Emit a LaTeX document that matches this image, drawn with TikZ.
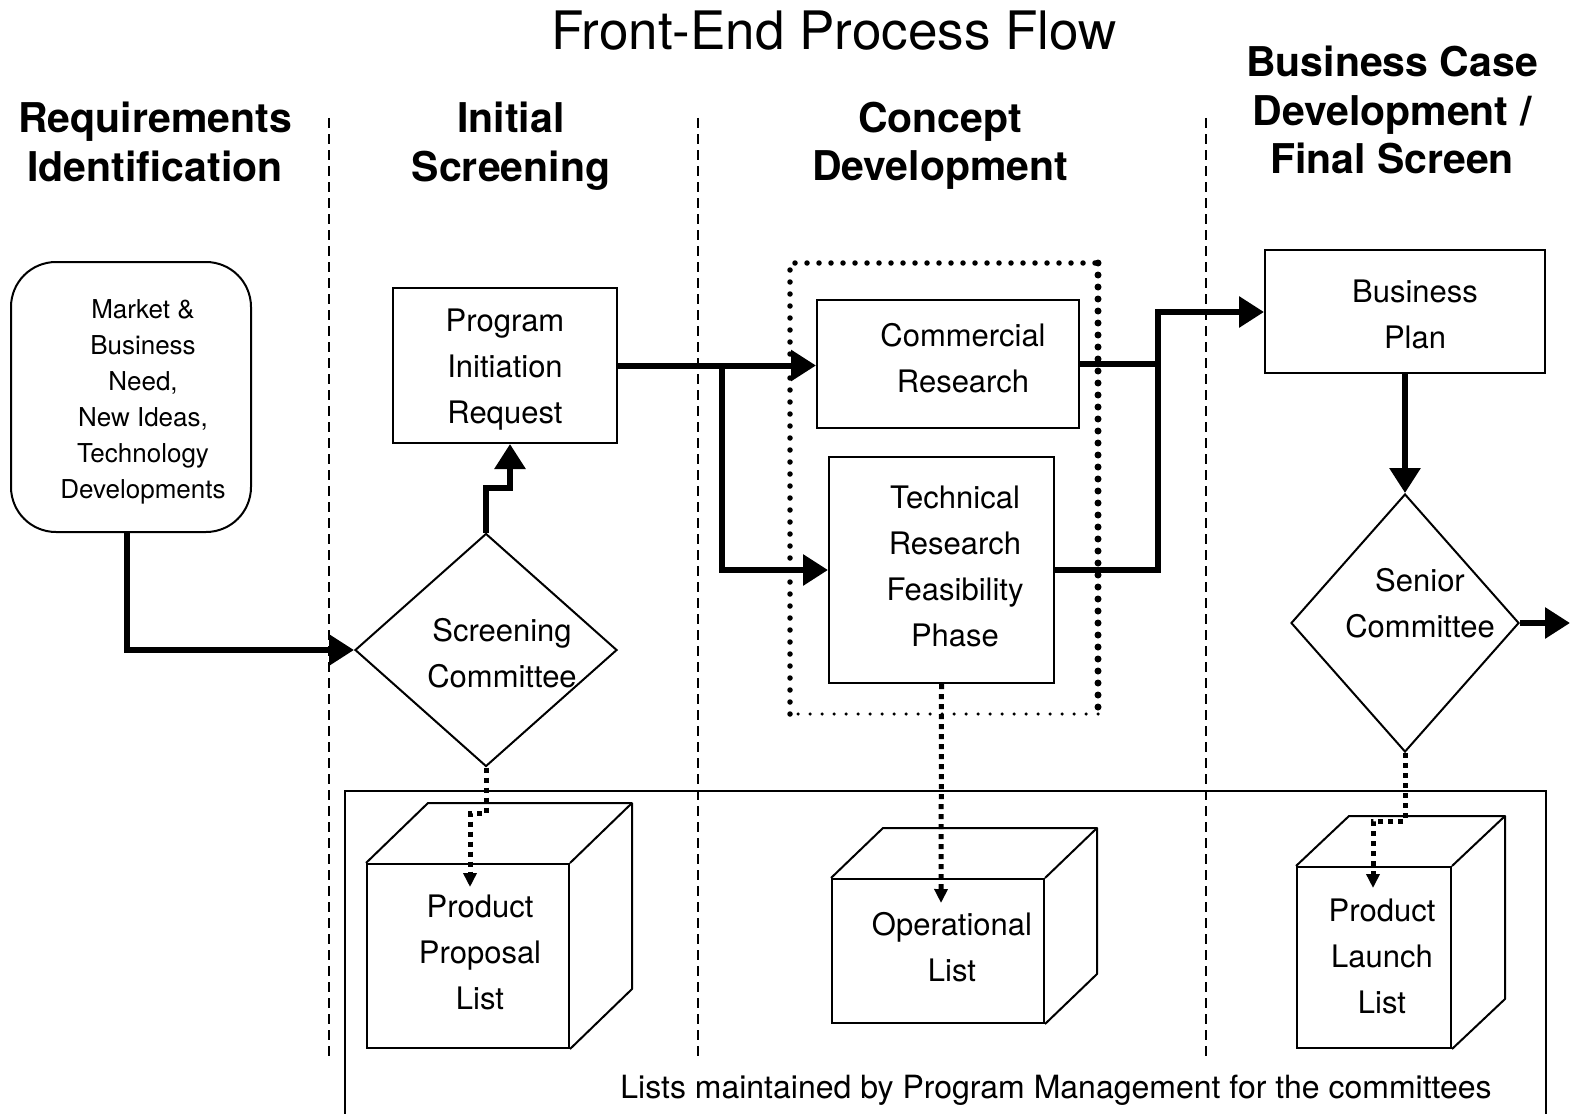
\documentclass[tikz,border=0pt]{standalone}
\usepackage{fontspec}
\setmainfont{TeX Gyre Heros}
\usetikzlibrary{arrows.meta,shapes.geometric,calc}

\tikzset{
  thinbox/.style={draw, line width=2pt, inner sep=0pt},
  procbox/.style={thinbox, rectangle},
  decision/.style={thinbox, diamond},
  flowline/.style={line width=6pt},
  flow/.style={flowline, -{Triangle[length=25pt,width=30pt]}},
  listlink/.style={line width=5pt, dash pattern=on 5pt off 5pt, -{Triangle[length=14pt,width=13pt]}},
  lane/.style={line width=1.8pt, dash pattern=on 10pt off 6pt},
  boxtext/.style={font=\fontsize{31}{46}\selectfont, align=center, inner sep=0pt},
  smalltext/.style={font=\fontsize{26}{36}\selectfont, align=center, inner sep=0pt},
  header/.style={font=\fontsize{41}{48.5}\selectfont\bfseries, align=center, inner sep=0pt},
  cubeedge/.style={line width=2pt, line join=round},
}

\begin{document}
\begin{tikzpicture}[x=1pt,y=-1pt]
\useasboundingbox (0,0) rectangle (1570,1113);

% title and phase headers
\node[font=\fontsize{53}{60}\selectfont, inner sep=0pt] (title) at (834,31) {Front-End Process Flow};
\node[header] (hreq) at (155,142) {Requirements\\Identification};
\node[header] (hini) at (511,146) {Initial\\Screening};
\node[header] (hcon) at (940,146) {Concept\\Development};
\node[header] (hbus) at (1392,110) {Business Case\\Development /\\Final Screen};

% lane separators
\draw[lane] (329,118) -- (329,1062);
\draw[lane] (698,118) -- (698,1062);
\draw[lane] (1206,118) -- (1206,1062);

% frame of the committee lists
\draw[line width=2pt] (345,1125) -- (345,791) -- (1546,791) -- (1546,1125);
\node[boxtext, font=\fontsize{32}{46}\selectfont] (listnote) at (1056,1090) {Lists maintained by Program Management for the committees};

% process boxes
\node[procbox, rounded corners=45pt, minimum width=240pt, minimum height=270pt] (mkt) at (131,397) {};
\node[smalltext] at (143,402) {Market \&\\Business\\Need,\\New Ideas,\\Technology\\Developments};

\node[procbox, minimum width=224pt, minimum height=155pt] (pir) at (505,365.5) {};
\node[boxtext] at (505,370) {Program\\Initiation\\Request};

\node[decision, minimum width=262pt, minimum height=233pt] (scr) at (486,650) {};
\node[boxtext] at (502,653) {Screening\\Committee};

\node[procbox, minimum width=262pt, minimum height=128pt] (com) at (948,364) {};
\node[boxtext] at (963,358) {Commercial\\Research};

\node[procbox, minimum width=225pt, minimum height=226pt] (tech) at (941.5,570) {};
\node[boxtext] at (955,566) {Technical\\Research\\Feasibility\\Phase};

\node[procbox, minimum width=280pt, minimum height=123pt] (bp) at (1405,311.5) {};
\node[boxtext] at (1415,314) {Business\\Plan};

\node[decision, minimum width=228pt, minimum height=258pt] (sen) at (1405,623) {};
\node[boxtext] at (1420,603) {Senior\\Committee};

% concept development group
\draw[line width=5.5pt, line cap=round, dash pattern=on 0pt off 12pt] (790,714) -- (790,263) -- (1098,263);
\draw[line width=7pt, line cap=round, dash pattern=on 0pt off 12pt] (1098,263) -- (1098,714);
\draw[line width=3.5pt, line cap=round, dash pattern=on 0pt off 12pt] (1098,714) -- (790,714);

% list cubes
\node[procbox, minimum width=202pt, minimum height=184pt] (ppl) at (468,956) {};
\draw[cubeedge] (ppl.north west) -- ([shift={(62,-60)}]ppl.north west) -- ([shift={(62,-60)}]ppl.north east)
  -- ([shift={(62,-60)}]ppl.south east) -- (ppl.south east);
\draw[cubeedge] (ppl.north east) -- ([shift={(62,-60)}]ppl.north east);
\node[boxtext] at (480,952) {Product\\Proposal\\List};

\node[procbox, minimum width=212pt, minimum height=144pt] (opl) at (938,951) {};
\draw[cubeedge] (opl.north west) -- ([shift={(52,-50)}]opl.north west) -- ([shift={(52,-50)}]opl.north east)
  -- ([shift={(52,-50)}]opl.south east) -- (opl.south east);
\draw[cubeedge] (opl.north east) -- ([shift={(52,-50)}]opl.north east);
\node[boxtext] at (952,947) {Operational\\List};

\node[procbox, minimum width=154pt, minimum height=181pt] (pll) at (1374,957.5) {};
\draw[cubeedge] (pll.north west) -- ([shift={(53,-50)}]pll.north west) -- ([shift={(53,-50)}]pll.north east)
  -- ([shift={(53,-50)}]pll.south east) -- (pll.south east);
\draw[cubeedge] (pll.north east) -- ([shift={(53,-50)}]pll.north east);
\node[boxtext] at (1382,956) {Product\\Launch\\List};

% process flow
\coordinate (br) at (722,366);
\coordinate (mrg) at (1158,312);
\coordinate (exit) at (1570,622);
\draw[flow] ([xshift=-4pt]mkt.south) |- (scr.west);
\draw[flow] (scr.north) -- ++(0,-45) -| ([xshift=5pt]pir.south);
\draw[flow] (pir.east) -- (pir.east -| com.west);
\draw[flow] (br) |- (tech.west);
\draw[flowline] (com.east) -- (com.east -| mrg);
\draw[flow] (tech.east) -| (mrg) -- (mrg -| bp.west);
\draw[flow] (bp.south) -- (sen.north);
\draw[flow] (sen.east) -- (sen.east -| exit);

% links to the lists
\coordinate (ppin) at (470,887);
\coordinate (opin) at (941,903);
\coordinate (plin) at (1373,888);
\draw[listlink] (scr.south) -- ++(0,46) -| (ppin);
\draw[listlink] (tech.south) -- (opin);
\draw[listlink] (sen.south) -- ++(0,68) -| (plin);
\end{tikzpicture}
\end{document}
